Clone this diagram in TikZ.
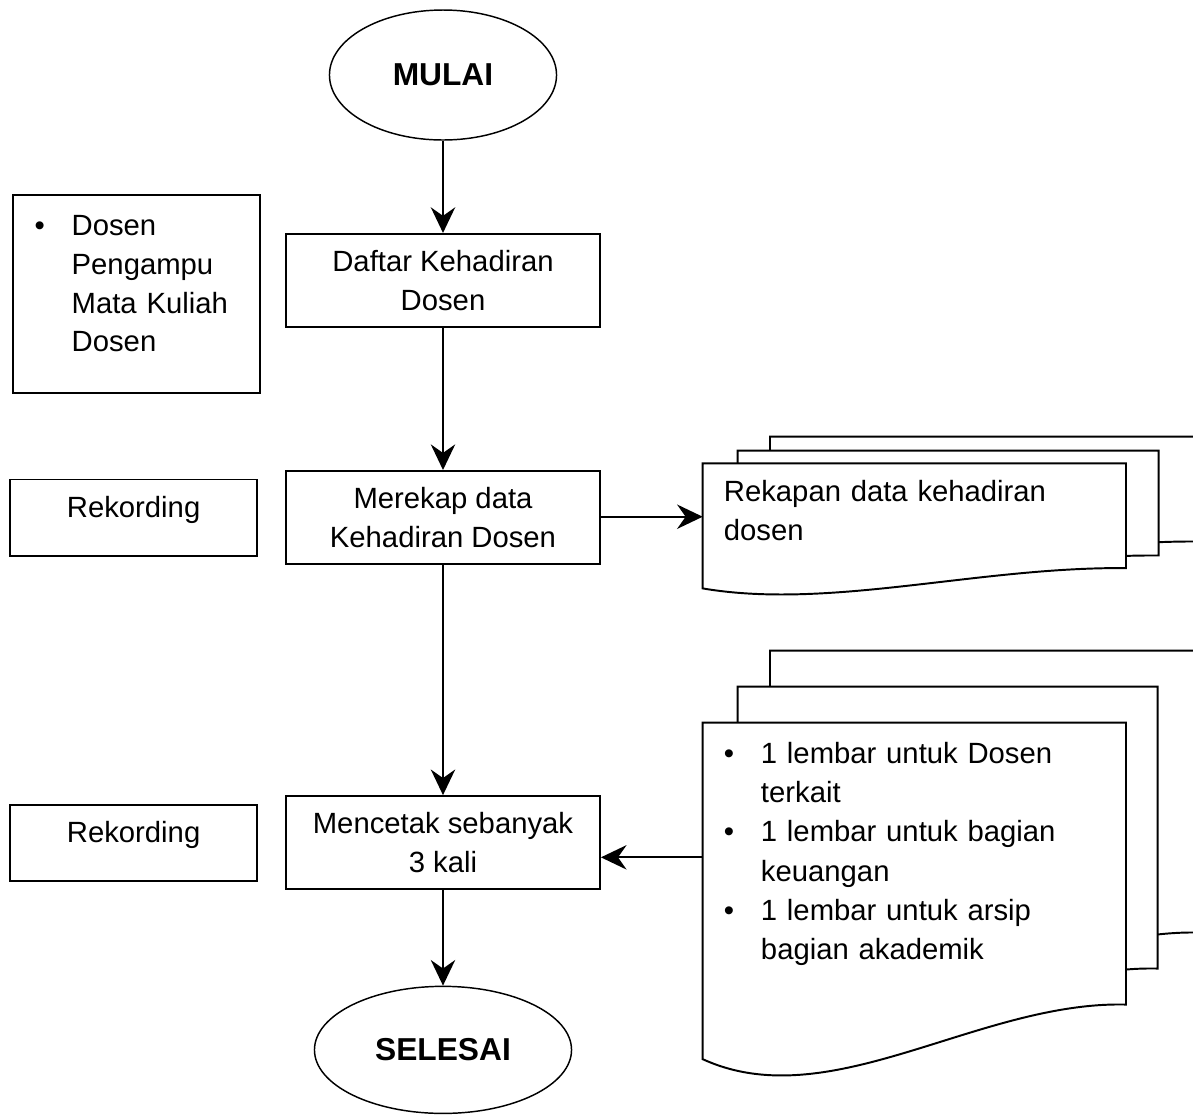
\documentclass[tikz,border=0pt]{standalone}
\usepackage{fontspec}
\setmainfont{Liberation Sans}
\usetikzlibrary{shapes.geometric,arrows.meta,positioning}

\newcommand{\kertas}[4]{%
    \draw[fill=white] (#1,#2) -- ({#1+#3},#2) -- ({#1+#3},{#2+0.8*#4})
        .. controls ({#1+0.65*#3},{#2+0.79*#4}) and ({#1+0.3*#3},{#2+1.12*#4}) .. (#1,{#2+0.955*#4}) -- cycle;}

\tikzset{
    terminal/.style={draw, ellipse, line width=0.6pt, inner sep=0pt, font=\fontsize{13pt}{15.8pt}\selectfont\bfseries},
    proses/.style={draw, rectangle, minimum width=128.7pt, minimum height=38.2pt, align=center},
    keterangan/.style={draw, rectangle, inner ysep=0pt, minimum width=101.4pt},
    dokteks/.style={inner xsep=8.7pt, inner ysep=0pt, outer sep=0pt, text width=156.2pt, align=left},
    panah/.style={-{Stealth[length=10.5pt,width=10pt,inset=3.5pt]}}
}

\begin{document}
\begin{tikzpicture}[x=0.41pt, y=-0.41pt, line width=0.8pt, font=\fontsize{12pt}{15.8pt}\selectfont]
    \useasboundingbox (0,0) rectangle (1193,1115);

    \node (mulai) [terminal, minimum width=93.1pt, minimum height=53.3pt] at (443,75) {MULAI};
    \node (daftar) [proses, below=37.8pt of mulai] {Daftar Kehadiran\\Dosen};
    \node (merekap) [proses, below=58.2pt of daftar] {Merekap data\\Kehadiran Dosen};
    \node (cetak) [proses, below=94.3pt of merekap] {Mencetak sebanyak\\3 kali};
    \node (selesai) [terminal, minimum width=105.4pt, minimum height=52.1pt, below=39.1pt of cetak] {SELESAI};

    \node (dosen) [keterangan, anchor=north west, inner xsep=9pt, text width=83.4pt, align=left, text height=16.8pt, text depth=64.4pt] at (11.7,194)
        {\begin{tabular}[t]{@{}p{15.2pt}@{}l@{}}\textbullet & Dosen\\ & Pengampu\\ & Mata Kuliah\\ & Dosen\end{tabular}};
    \node (rekording1) [keterangan, text height=15.5pt, text depth=15.7pt, left=11pt of merekap] {Rekording};
    \node (rekording2) [keterangan, text height=15.5pt, text depth=15.7pt, left=11pt of cetak] {Rekording};

    \kertas{770}{436.7}{430}{131}
    \kertas{737.7}{450.7}{421}{131}
    \kertas{702.7}{463.3}{423.3}{131}
    \kertas{770}{650.7}{430}{352.3}
    \kertas{737.7}{686.7}{420}{352.3}
    \kertas{702.7}{722.7}{423.3}{352.3}

    \node (rekap) [dokteks, anchor=north west, text height=15.7pt, text depth=28.1pt] at (702.7,463.3) {Rekapan data kehadiran\\dosen};
    \node (lembar) [dokteks, anchor=north west, text height=16.6pt, text depth=93.8pt, font=\fontsize{12pt}{16.1pt}\selectfont] at (702.7,722.7)
        {\begin{tabular}[t]{@{}p{15.2pt}@{}l@{}}\textbullet & 1 lembar untuk Dosen\\ & terkait\\ \textbullet & 1 lembar untuk bagian\\ & keuangan\\ \textbullet & 1 lembar untuk arsip\\ & bagian akademik\end{tabular}};

    \draw [panah] (mulai) -- (daftar);
    \draw [panah] (daftar) -- (merekap);
    \draw [panah] (merekap) -- (cetak);
    \draw [panah] (cetak) -- (selesai);
    \draw [panah] (rekap.west -| merekap.east) -- (rekap.west);
    \draw [panah] (lembar.west) -- (lembar.west -| cetak.east);
\end{tikzpicture}
\end{document}
